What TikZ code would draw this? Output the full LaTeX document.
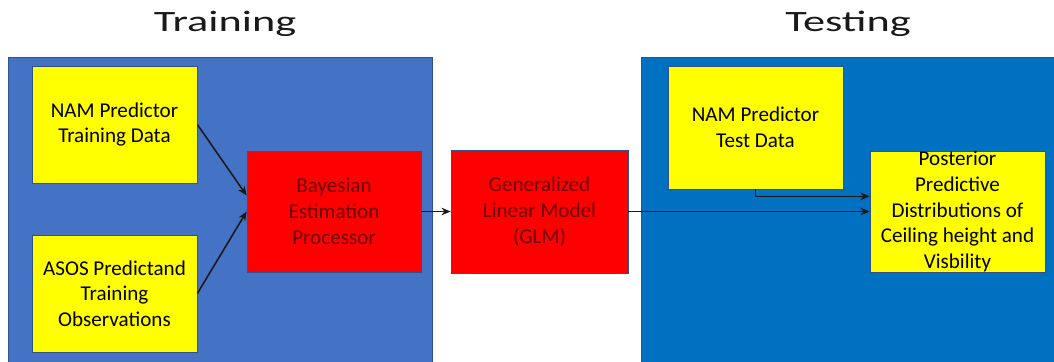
\documentclass[tikz,border=0pt]{standalone}
\usepackage{fontspec}
\setmainfont{Carlito}
\usetikzlibrary{arrows.meta, positioning}
\definecolor{trainblue}{HTML}{4472C4}
\definecolor{testblue}{HTML}{0070C0}
\definecolor{edgeblue}{HTML}{2F528F}
\definecolor{procred}{HTML}{FF0000}
\definecolor{inyellow}{HTML}{FFFF00}
\definecolor{redtext}{HTML}{6B0000}
\tikzset{
  >={Stealth[length=2.3mm, width=1.9mm]},
  panel/.style={draw=edgeblue, line width=0.4pt},
  box/.style={rectangle, draw=edgeblue, line width=0.5pt, align=center, inner sep=1pt,
              font=\fontsize{15}{18.3}\selectfont},
  boxy/.style={box, fill=inyellow, text=black},
  boxr/.style={box, fill=procred, text=redtext},
  flow/.style={->, line width=1.1pt, draw=black!90},
  ttl/.style={anchor=base, inner sep=0pt, text=black!90, font=\fontsize{21}{25}\selectfont},
}
\newcommand{\widetitle}[1]{\scalebox{1.5}[1]{#1}}

\begin{document}
\begin{tikzpicture}[x=0.025cm, y=-0.025cm]
  \useasboundingbox (0,0) rectangle (1054,362);
  % panels
  \fill[trainblue, panel] (8,57) rectangle (432,366);
  \fill[testblue, panel] (641,57) rectangle (1058,366);
  \node[ttl] (traintitle) at (225,31.7) {\widetitle{Training}};
  \node[ttl] (testtitle) at (848,31.7) {\widetitle{Testing}};

  % training side
  \node[boxy, minimum width=4.125cm, minimum height=2.925cm] (trainnam) at (114.5,124.5)
    {NAM Predictor\\Training Data};
  \node[boxy, minimum width=4.125cm, minimum height=2.925cm] (asos) at (114.5,293.5)
    {ASOS Predictand\\Training\\Observations};
  \node[boxr, minimum width=4.35cm, minimum height=3.025cm] (bayes) at (334,211.5)
    {Bayesian\\Estimation\\Processor};
  \node[boxr, minimum width=4.425cm, minimum height=3.075cm] (glm) at (539.5,211.5)
    {Generalized\\Linear Model\\(GLM)};

  % testing side
  \node[boxy, minimum width=4.375cm, minimum height=3.075cm] (testnam) at (755.5,127.5)
    {NAM Predictor\\Test Data};
  \node[boxy, minimum width=4.375cm, minimum height=3.025cm,
        label={[box, draw=none, text=black]center:Posterior\\Predictive\\Distributions of\\Ceiling height and\\Visbility}]
    (post) at (957.5,211.5) {};

  \draw[flow] (trainnam.east) -- ([yshift=0.4cm]bayes.west);
  \draw[flow] (asos.east) -- (bayes.west);
  \draw[flow] (bayes) -- (glm);
  \draw[flow] (glm) -- (post);
  \draw[flow] (testnam.south) |- ([yshift=0.38cm]post.west);
\end{tikzpicture}
\end{document}
